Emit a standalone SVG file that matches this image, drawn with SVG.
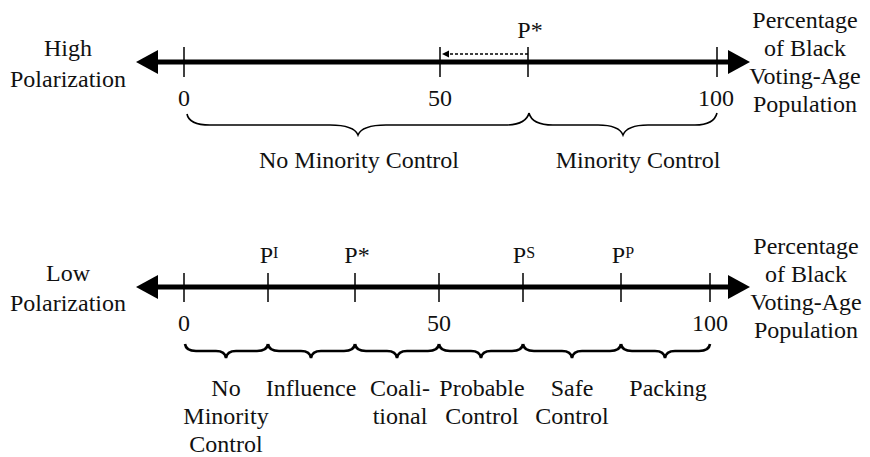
<svg xmlns="http://www.w3.org/2000/svg" width="870" height="457" viewBox="0 0 870 457">
<style>
text{font-family:'Liberation Serif','DejaVu Serif',serif;font-size:24px;fill:#111;text-anchor:middle}
.sup{font-size:16px}
.axis{stroke:#000;stroke-width:5;fill:none}
.tick{stroke:#000;stroke-width:1.5;fill:none}
.brace1{stroke:#000;stroke-width:1.6;fill:none}
.brace2{stroke:#000;stroke-width:2.6;fill:none}
.dash{stroke:#000;stroke-width:1.3;stroke-dasharray:3,2;fill:none}
</style>
<g id="connectors">
<line class="axis" x1="156" y1="62" x2="730" y2="62"/>
<polygon points="136,62 158,50 158,74" fill="#000"/>
<polygon points="750,62 728,50 728,74" fill="#000"/>
<line class="dash" x1="528" y1="54" x2="448" y2="54"/>
<polygon points="442,54 449,50.5 449,57.5" fill="#000"/>
<line class="axis" x1="156" y1="287" x2="730" y2="287"/>
<polygon points="136,287 158,275 158,299" fill="#000"/>
<polygon points="750,287 728,275 728,299" fill="#000"/>
</g>
<g id="top-ticks">
<line class="tick" x1="184" y1="47" x2="184" y2="77"/>
<line class="tick" x1="440" y1="47" x2="440" y2="77"/>
<line class="tick" x1="528" y1="47" x2="528" y2="77"/>
<line class="tick" x1="717" y1="47" x2="717" y2="77"/>
</g>
<g id="top-labels">
<text x="68" y="56">High</text>
<text x="68" y="87">Polarization</text>
<text x="184" y="106">0</text>
<text x="440" y="106">50</text>
<text x="716" y="106">100</text>
<text x="530" y="38">P*</text>
<text x="805" y="28">Percentage</text>
<text x="805" y="56">of Black</text>
<text x="805" y="84">Voting-Age</text>
<text x="805" y="112">Population</text>
</g>
<g id="top-braces">
<path class="brace1" d="M187,114 Q189,125 210,125 L330,125 Q354,125 358,135 Q362,125 386,125 L505,125 Q526,125 529,113"/>
<path class="brace1" d="M529,113 Q532,125 553,125 L598,125 Q619,125 623,135 Q627,125 648,125 L695,125 Q714,125 717,113"/>
</g>
<g id="top-braces-labels">
<text x="359" y="168">No Minority Control</text>
<text x="638" y="168">Minority Control</text>
</g>
<g id="bottom-ticks">
<line class="tick" x1="184" y1="273" x2="184" y2="302"/>
<line class="tick" x1="268" y1="273" x2="268" y2="302"/>
<line class="tick" x1="355" y1="273" x2="355" y2="302"/>
<line class="tick" x1="439" y1="273" x2="439" y2="302"/>
<line class="tick" x1="523" y1="273" x2="523" y2="302"/>
<line class="tick" x1="621" y1="273" x2="621" y2="302"/>
<line class="tick" x1="710" y1="273" x2="710" y2="302"/>
</g>
<g id="bottom-labels">
<text x="68" y="281">Low</text>
<text x="68" y="311">Polarization</text>
<text x="184" y="331">0</text>
<text x="439" y="331">50</text>
<text x="710" y="331">100</text>
<text x="269" y="263">P<tspan class="sup" dy="-5">I</tspan></text>
<text x="357" y="263">P*</text>
<text x="524" y="263">P<tspan class="sup" dy="-5">S</tspan></text>
<text x="623" y="263">P<tspan class="sup" dy="-5">P</tspan></text>
<text x="806" y="254">Percentage</text>
<text x="806" y="282">of Black</text>
<text x="806" y="310">Voting-Age</text>
<text x="806" y="338">Population</text>
</g>
<g id="bottom-braces">
<path class="brace2" d="M185,344 Q186,351 196,351 L216,351 Q225,351 226,358 Q227,351 236,351 L257,351 Q267,351 268,344"/>
<path class="brace2" d="M268,344 Q269,351 279,351 L301,351 Q310,351 311,358 Q312,351 321,351 L344,351 Q354,351 355,344"/>
<path class="brace2" d="M355,344 Q356,351 366,351 L387,351 Q396,351 397,358 Q398,351 407,351 L428,351 Q438,351 439,344"/>
<path class="brace2" d="M439,344 Q440,351 450,351 L471,351 Q480,351 481,358 Q482,351 491,351 L512,351 Q522,351 523,344"/>
<path class="brace2" d="M523,344 Q524,351 534,351 L562,351 Q571,351 572,358 Q573,351 582,351 L610,351 Q620,351 621,344"/>
<path class="brace2" d="M621,344 Q622,351 632,351 L655,351 Q664,351 665,358 Q666,351 675,351 L699,351 Q709,351 710,344"/>
</g>
<g id="bottom-brace-labels">
<text x="226" y="396">No</text>
<text x="226" y="424">Minority</text>
<text x="226" y="452">Control</text>
<text x="311" y="396">Influence</text>
<text x="400" y="396">Coali-</text>
<text x="400" y="424">tional</text>
<text x="482" y="396">Probable</text>
<text x="482" y="424">Control</text>
<text x="572" y="396">Safe</text>
<text x="572" y="424">Control</text>
<text x="668" y="396">Packing</text>
</g>
</svg>
